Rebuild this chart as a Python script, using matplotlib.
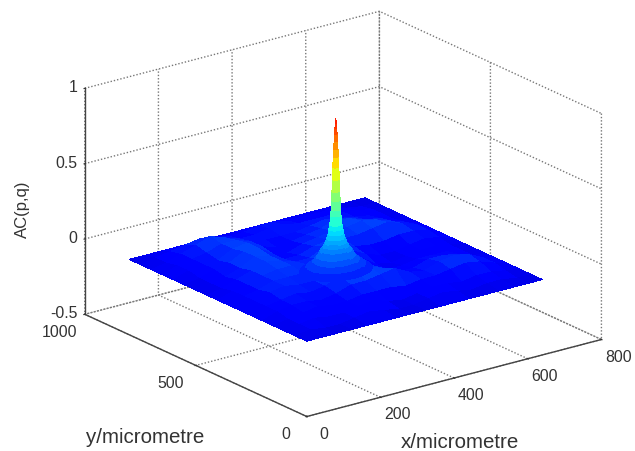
import numpy as np
import matplotlib
matplotlib.use("Agg")
import matplotlib.pyplot as plt
from matplotlib.colors import Normalize
from matplotlib.transforms import Affine2D

plt.rcParams['font.family'] = ['Liberation Sans', 'DejaVu Sans']
plt.rcParams['font.size'] = 11.4

# relief of the correlation floor, one list per y row (1/60 of AC(p,q))
x_um = [0, 40, 80, 120, 160, 200, 240, 280, 320, 360, 400, 440, 480, 520, 560, 600, 640]
y_um = [0, 50, 100, 150, 200, 250, 300, 350, 400, 450, 500, 550, 600, 650, 700, 750, 800]
z_y000 = [0, 0, 0, 0, 0, 0, 0, 0, 0, 0, 0, 0, 0, 0, 0, 0, 0]
z_y050 = [0, 1, 0, 0, 1, 2, 1, 0, 0, 1, 2, 1, 0, 1, 1, 0, 0]
z_y100 = [0, 1, 2, 1, 1, 2, 3, 1, 0, 1, 2, 2, 1, 2, 2, 1, 0]
z_y150 = [0, 1, 2, 3, 2, 2, 3, 3, 3, 2, 3, 3, 4, 5, 4, 2, 0]
z_y200 = [0, 2, 3, 3, 2, 3, 5, 5, 6, 7, 4, 3, 5, 6, 5, 2, 0]
z_y250 = [0, 2, 3, 4, 3, 4, 6, 8, 7, 5, 2, 2, 4, 4, 3, 1, 0]
z_y300 = [0, 2, 4, 5, 4, 4, 7, 8, 7, 4, 1, 1, 2, 2, 2, 1, 0]
z_y350 = [0, 2, 3, 5, 5, 5, 5, 6, 8, 5, 1, 0, 1, 2, 2, 1, 0]
z_y400 = [0, 2, 3, 5, 6, 6, 5, 5, 8, 6, 3, 1, 1, 2, 3, 2, 0]
z_y450 = [0, 1, 3, 5, 7, 6, 4, 4, 7, 6, 4, 3, 3, 4, 4, 3, 0]
z_y500 = [0, 1, 2, 4, 7, 6, 3, 3, 5, 6, 5, 5, 6, 7, 5, 3, 0]
z_y550 = [0, 1, 3, 4, 7, 7, 3, 2, 4, 5, 6, 6, 7, 6, 4, 2, 0]
z_y600 = [0, 2, 3, 3, 6, 7, 4, 2, 3, 4, 5, 7, 6, 4, 3, 1, 0]
z_y650 = [0, 2, 3, 4, 6, 6, 4, 3, 3, 3, 4, 5, 4, 3, 2, 1, 0]
z_y700 = [0, 1, 3, 5, 7, 5, 3, 3, 4, 4, 3, 3, 3, 3, 2, 1, 0]
z_y750 = [0, 1, 2, 3, 4, 3, 2, 2, 3, 3, 2, 2, 2, 2, 1, 0, 0]
z_y800 = [0, 0, 0, 0, 0, 0, 0, 0, 0, 0, 0, 0, 0, 0, 0, 0, 0]

# central peak: radius from its centre (micrometre) and height
peak_centre = (320, 400)
peak_r = [0, 1, 2, 3, 4, 5, 6, 7, 8, 9, 10, 11, 12, 14, 16, 18, 21, 25, 30, 37, 45, 55, 70, 85]
peak_z = [1.0, .97, .94, .90, .85, .80, .75, .68, .60, .52, .46, .40, .36, .30, .27,
          .24, .21, .18, .155, .13, .09, .06, .03, .0]

x_ticks = [0, 200, 400, 600, 800]
y_ticks = [0, 500, 1000]
z_ticks = [-0.5, 0, 0.5, 1]
z_tick_labels = ['-0.5', '0', '0.5', '1']

fig = plt.figure(figsize=(6.35, 4.51), dpi=100)
ax = fig.add_axes([19.5 / 635, 5.5 / 451, 1, 1], projection='3d', computed_zorder=False)
ax.set_proj_type('ortho')
ax.view_init(elev=20.3, azim=-127)
ax.set_box_aspect((369, 369, 241), zoom=1.237)
ax.set_xlim(0, 800, view_margin=0)
ax.set_ylim(0, 1000, view_margin=0)
ax.set_zlim(-0.5, 1, view_margin=0)

norm = Normalize(-0.1, 1.0)
peak_norm = Normalize(-0.2, 1.15)
X, Y = np.meshgrid(x_um, y_um)
Z = np.array([z_y000, z_y050, z_y100, z_y150, z_y200, z_y250, z_y300, z_y350, z_y400,
              z_y450, z_y500, z_y550, z_y600, z_y650, z_y700, z_y750, z_y800]) / 60
ax.plot_surface(X, Y, Z, rstride=1, cstride=1, cmap='jet', norm=norm, shade=False,
                linewidth=0, antialiased=False, zorder=2)

theta = np.linspace(0, 2 * np.pi, 33)
R, T = np.meshgrid(peak_r, theta)
PZ = np.tile(peak_z, (len(theta), 1))
ax.plot_surface(peak_centre[0] + R * np.cos(T), peak_centre[1] + R * np.sin(T), PZ,
                rstride=1, cstride=1, cmap='jet', norm=peak_norm, shade=False,
                linewidth=0, antialiased=False, zorder=3)

ax.set_xticks(x_ticks)
ax.set_yticks(y_ticks)
ax.set_zticks(z_ticks)
ax.set_zticklabels(z_tick_labels)
for axis in (ax.xaxis, ax.yaxis, ax.zaxis):
    axis.set_pane_color((1, 1, 1, 1))
    axis.pane.set_edgecolor('none')
    axis.line.set_color('#444444')
    axis.line.set_linewidth(1.0)
    axis._axinfo['grid'].update(color='#777777', linewidth=1.0, linestyle=(0, (1, 1.4)))
    axis._axinfo['tick'].update(inward_factor=0.03, outward_factor=0.03)
    axis.set_tick_params(colors='#333333', width=0.8)
    axis.set_rotate_label(False)

ax.xaxis.set_tick_params(pad=5)
ax.yaxis.set_tick_params(pad=6.5)
ax.zaxis.set_tick_params(pad=-5.5)
for lab in ax.xaxis.get_ticklabels():
    lab.set_va('bottom')
for lab in ax.yaxis.get_ticklabels():
    lab.set_va('bottom')
ax.yaxis.get_ticklabels()[0].set_ha('left')
for lab in ax.zaxis.get_ticklabels():
    lab.set_ha('right')
    lab.set_va('center')

ax.set_xlabel('x/micrometre', color='#333333', labelpad=8, fontsize=14.8)
ax.set_ylabel('y/micrometre', color='#333333', labelpad=8, fontsize=14.8)
ax.set_zlabel('AC(p,q)', color='#333333', rotation=90, labelpad=8, fontsize=12)


def nudge(label, dx, dy):
    # the 3D axis resets the label transform when drawing, so shift it at read time
    label.get_transform = lambda: ax.transData + Affine2D().translate(dx, dy)


nudge(ax.xaxis.label, -32, -8)
nudge(ax.yaxis.label, 0, -20)
nudge(ax.zaxis.label, 26.5, -12.5)

fig.savefig('out.png', dpi=100)
